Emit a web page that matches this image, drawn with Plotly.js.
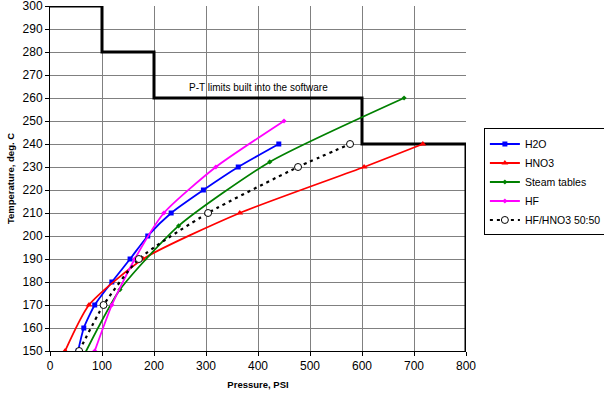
<!DOCTYPE html>
<html>
<head>
<meta charset="utf-8">
<script src="https://cdn.plot.ly/plotly-3.0.1.min.js"></script>
<style>html,body{margin:0;padding:0;background:#fff}#chart{width:604px;height:396px}</style>
</head>
<body>
<div id="chart"></div>
<script>
// Data (Pressure in PSI, Temperature in deg. C)
var h2oT = [150, 160, 170, 180, 190, 200, 210, 220, 230, 240];
var h2oP = [54, 65, 86, 119, 154, 188, 233, 295, 362, 440];

var hno3T = [150, 170, 190, 210, 230, 240];
var hno3P = [29, 75, 179, 365, 604, 717];

var steamT = [148.9, 176.7, 204.4, 232.2, 260];
var steamP = [67, 134.6, 247.3, 422.6, 680.9];

var hfT = [150, 170, 190, 210, 230, 250];
var hfP = [86, 119, 163, 219, 319, 450];

var mixT = [150, 170, 190, 210, 230, 240];
var mixP = [56, 103, 171, 304, 477, 577];

var limitP = [0, 100, 100, 200, 200, 600, 600, 800, 800];
var limitT = [300, 300, 280, 280, 260, 260, 240, 240, 150];

var limitLabel = "P-T limits built into the software";
var limitLabelP = 400;
var limitLabelT = 264.5;

var xTicks = [0, 100, 200, 300, 400, 500, 600, 700, 800];
var yTicks = [150, 160, 170, 180, 190, 200, 210, 220, 230, 240, 250, 260, 270, 280, 290, 300];

var traces = [
  {x: limitP, y: limitT, mode: 'lines', showlegend: false, hoverinfo: 'skip',
   line: {color: '#000000', width: 3}},
  {x: h2oP, y: h2oT, name: 'H2O', mode: 'lines+markers',
   line: {color: '#0000ff', width: 1.8, shape: 'spline', smoothing: 0.6},
   marker: {symbol: 'square', size: 5, color: '#0000ff'}},
  {x: hno3P, y: hno3T, name: 'HNO3', mode: 'lines+markers',
   line: {color: '#ff0000', width: 1.8, shape: 'spline', smoothing: 0.6},
   marker: {symbol: 'triangle-up', size: 6, color: '#ff0000'}},
  {x: steamP, y: steamT, name: 'Steam tables', mode: 'lines+markers',
   line: {color: '#008000', width: 1.8, shape: 'spline', smoothing: 0.6},
   marker: {symbol: 'diamond', size: 4, color: '#008000'}},
  {x: hfP, y: hfT, name: 'HF', mode: 'lines+markers',
   line: {color: '#ff00ff', width: 1.8, shape: 'spline', smoothing: 0.6},
   marker: {symbol: 'diamond', size: 4, color: '#ff00ff'}},
  {x: mixP, y: mixT, name: 'HF/HNO3 50:50', mode: 'lines+markers',
   line: {color: '#000000', width: 2.2, dash: '3px,4px', shape: 'spline', smoothing: 0.6},
   marker: {symbol: 'circle', size: 7, color: '#ffffff', line: {color: '#000000', width: 1}}}
];

var layout = {
  width: 604, height: 396,
  margin: {l: 50, r: 138, t: 6, b: 45, autoexpand: false},
  paper_bgcolor: '#ffffff', plot_bgcolor: '#ffffff',
  font: {family: 'Liberation Sans, Arial, sans-serif', color: '#000000', size: 12},
  xaxis: {
    range: [0, 800], tickvals: xTicks, ticktext: xTicks.map(String),
    showgrid: true, gridcolor: '#808080', gridwidth: 1,
    showline: true, linecolor: '#000000', linewidth: 1,
    ticks: 'outside', ticklen: 4, tickcolor: '#000000',
    zeroline: false, tickfont: {size: 12}, ticklabeloverflow: 'allow',
    title: {text: '<b>Pressure, PSI</b>', font: {size: 9.5}, standoff: 8}
  },
  yaxis: {
    range: [150, 300], tickvals: yTicks, ticktext: yTicks.map(String),
    showgrid: true, gridcolor: '#808080', gridwidth: 1,
    showline: true, linecolor: '#000000', linewidth: 1,
    ticks: 'outside', ticklen: 4, tickcolor: '#000000',
    zeroline: false, tickfont: {size: 12}, ticklabeloverflow: 'allow',
    title: {text: '<b>Temperature, deg. C</b>', font: {size: 9.5}, standoff: 6}
  },
  legend: {
    x: 1.043, xanchor: 'left', y: 0.645, yanchor: 'top',
    bgcolor: '#ffffff', bordercolor: '#000000', borderwidth: 1,
    font: {size: 10.5}, tracegroupgap: 0, itemwidth: 30
  },
  annotations: [{
    x: limitLabelP, y: limitLabelT, xref: 'x', yref: 'y',
    text: limitLabel, showarrow: false, font: {size: 10, color: '#000000'},
    xanchor: 'center', yanchor: 'middle'
  }],
  showlegend: true
};

Plotly.newPlot('chart', traces, layout, {staticPlot: true, displayModeBar: false});
</script>
</body>
</html>
